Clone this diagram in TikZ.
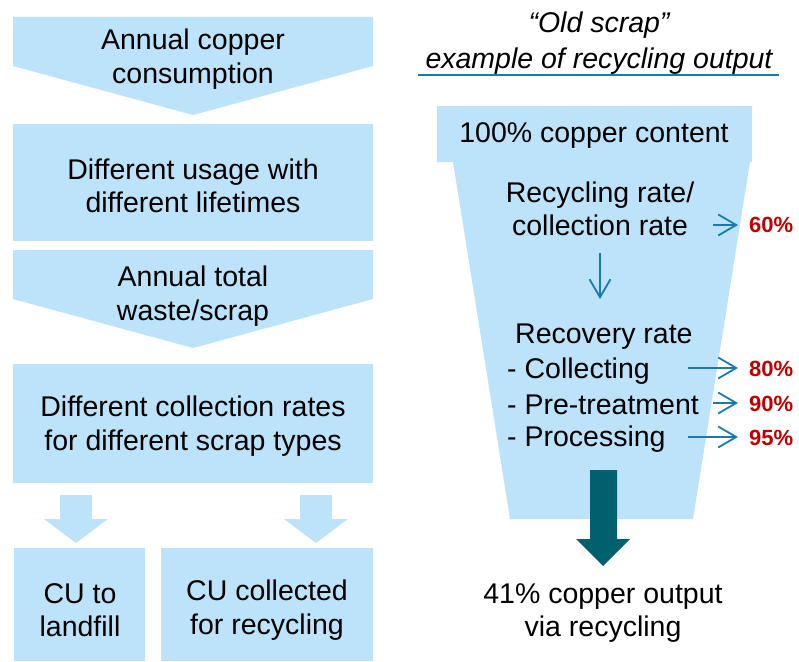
\documentclass[tikz,border=0pt]{standalone}
\usepackage{fontspec}
\setmainfont{Liberation Sans}
\usetikzlibrary{arrows.meta}
\definecolor{lightblue}{RGB}{189,227,251}
\definecolor{arrowblue}{RGB}{26,122,170}
\definecolor{darkteal}{RGB}{0,97,110}
\definecolor{pctred}{RGB}{192,0,0}
\begin{document}
\begin{tikzpicture}[x=1pt,y=-1pt,
  txt/.style={font=\fontsize{28.5}{33.5}\selectfont, inner sep=0pt, align=center},
  pct/.style={font=\fontsize{22}{26}\selectfont\bfseries, text=pctred, inner sep=0pt, anchor=west},
  shapefill/.style={fill=lightblue},
  thinarrow/.style={draw=arrowblue, line width=1.8pt, -{Straight Barb[length=18pt,width=21pt,line width=1.8pt]}}]
\useasboundingbox (0,0) rectangle (799,661);
% left column shapes
\fill[shapefill] (13,17) -- (373,17) -- (373,66) -- (193,115) -- (13,66) -- cycle;
\fill[shapefill] (13,124) rectangle (373,241);
\fill[shapefill] (13,250) -- (373,250) -- (373,299) -- (193,348) -- (13,299) -- cycle;
\fill[shapefill] (13,364) rectangle (373,483);
\fill[shapefill] (60,495) -- (92,495) -- (92,519) -- (108,519) -- (76,543) -- (44,519) -- (60,519) -- cycle;
\fill[shapefill] (300,495) -- (332,495) -- (332,519) -- (348,519) -- (316,543) -- (284,519) -- (300,519) -- cycle;
\fill[shapefill] (14,548) rectangle (145,661);
\fill[shapefill] (161,548) rectangle (373,661);
% left texts
\node[txt] (t1) at (193,59) {Annual copper\\consumption};
\node[txt] (t2) at (193,186) {Different usage with\\different lifetimes};
\node[txt] (t3) at (193,296) {Annual total\\waste/scrap};
\node[txt] (t4) at (193,426) {Different collection rates\\for different scrap types};
\node[txt] (t5) at (80,610) {CU to\\landfill};
\node[txt] (t6) at (267,610) {CU collected\\for recycling};
% right column title
\node[txt, font=\fontsize{28.5}{36}\selectfont\itshape] (title) at (599,43) {“Old scrap”\\example of recycling output};
\coordinate (ulL) at (418,75);
\coordinate (ulR) at (779,75);
\draw[arrowblue, line width=2.6pt] (ulL) -- (ulR);
% funnel
\fill[shapefill] (437,106) -- (752,106) -- (752,162) -- (750,162) -- (693,519) -- (510,519) -- (453,162) -- (437,162) -- cycle;
\node[txt] (cont) at (594,136) {100\% copper content};
\node[txt] (recyc) at (600,209) {Recycling rate/\\collection rate};
\node[txt, anchor=west] (recov) at (515,337) {Recovery rate};
\node[txt, anchor=west] (coll) at (507,371) {- Collecting};
\node[txt, anchor=west] (pret) at (507,405) {- Pre-treatment};
\node[txt, anchor=west] (proc) at (507,439) {- Processing};
% percentages
\node[pct] (p60) at (749,225) {60\%};
\node[pct] (p80) at (749,369) {80\%};
\node[pct] (p90) at (749,404) {90\%};
\node[pct] (p95) at (749,438) {95\%};
% thin arrows
\coordinate (a60) at (713,225);
\coordinate (a80) at (688,368);
\coordinate (a90) at (713,403);
\coordinate (a95) at (688,437);
\coordinate (e60) at (738,225);
\coordinate (e80) at (738,368);
\coordinate (e90) at (738,403);
\coordinate (e95) at (738,437);
\draw[thinarrow] (a60) -- (e60);
\draw[thinarrow] (a80) -- (e80);
\draw[thinarrow] (a90) -- (e90);
\draw[thinarrow] (a95) -- (e95);
\coordinate (dtop) at (600,253);
\coordinate (dbot) at (600,299);
\draw[thinarrow] (dtop) -- (dbot);
% big arrow
\fill[darkteal] (590,470) -- (617,470) -- (617,539) -- (630,539) -- (603,566) -- (576,539) -- (590,539) -- cycle;
\node[txt] (out) at (603,613) {41\% copper output\\via recycling};
\end{tikzpicture}
\end{document}
